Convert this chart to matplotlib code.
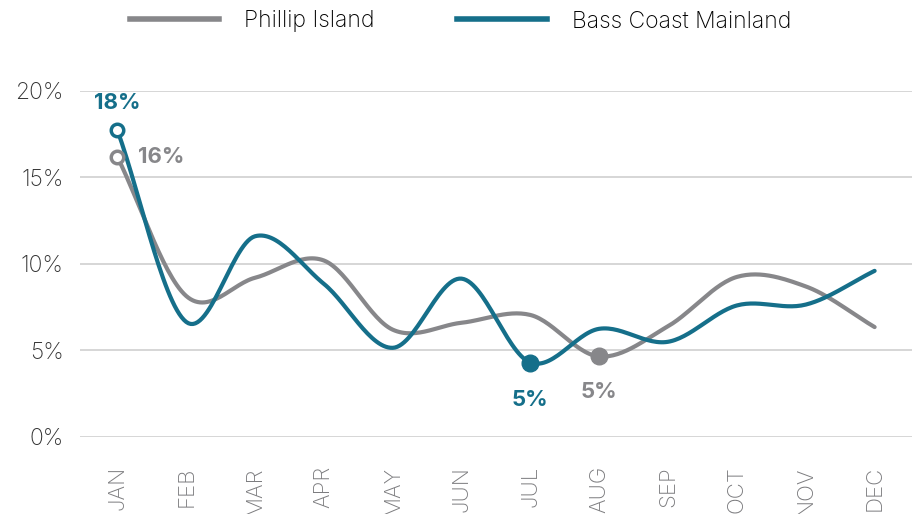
import numpy as np
import matplotlib
matplotlib.use("Agg")
import matplotlib.pyplot as plt
from matplotlib.lines import Line2D

plt.rcParams['font.family'] = ['Inter', 'DejaVu Sans']

months = ['JAN', 'FEB', 'MAR', 'APR', 'MAY', 'JUN', 'JUL', 'AUG', 'SEP', 'OCT', 'NOV', 'DEC']
phillip = [16.2, 8.15, 9.2, 10.2, 6.2, 6.6, 7.05, 4.65, 6.4, 9.25, 8.7, 6.35]
bass = [17.75, 6.65, 11.6, 8.85, 5.15, 9.15, 4.3, 6.25, 5.5, 7.6, 7.65, 9.6]

grey = '#87878a'
teal = '#156f8a'


def smooth(xs, ys, n=30, t=0.5):
    # catmull-rom style smoothing between the points
    xs = np.asarray(xs, float)
    ys = np.asarray(ys, float)
    px = np.concatenate([[2 * xs[0] - xs[1]], xs, [2 * xs[-1] - xs[-2]]])
    py = np.concatenate([[2 * ys[0] - ys[1]], ys, [2 * ys[-1] - ys[-2]]])
    ox, oy = [], []
    for i in range(1, len(px) - 2):
        s = np.linspace(0, 1, n, endpoint=False)
        for p, o in ((px, ox), (py, oy)):
            m1 = t * (p[i + 1] - p[i - 1])
            m2 = t * (p[i + 2] - p[i])
            h00 = 2 * s**3 - 3 * s**2 + 1
            h10 = s**3 - 2 * s**2 + s
            h01 = -2 * s**3 + 3 * s**2
            h11 = s**3 - s**2
            o.extend(h00 * p[i] + h10 * m1 + h01 * p[i + 1] + h11 * m2)
    ox.append(xs[-1])
    oy.append(ys[-1])
    return np.array(ox), np.array(oy)


fig = plt.figure(figsize=(9.21, 5.14), dpi=100)
ax = fig.add_axes([0.087, 0.15, 0.903, 0.673])

x = np.arange(len(months))
ax.plot(*smooth(x, phillip), color=grey, lw=3, solid_capstyle='round', zorder=3)
ax.plot(*smooth(x, bass), color=teal, lw=3, solid_capstyle='round', zorder=3)

# markers on the labelled points
ax.plot(x[0], bass[0], 'o', ms=9, mfc='white', mec=teal, mew=2.5, zorder=5)
ax.plot(x[0], phillip[0], 'o', ms=9, mfc='white', mec=grey, mew=2.5, zorder=5)
ax.plot(x[6], bass[6], 'o', ms=12, color=teal, zorder=5)
ax.plot(x[7], phillip[7], 'o', ms=12, color=grey, zorder=5)

lab = dict(fontsize=16, fontweight='bold', ha='center')
ax.text(x[0], bass[0] + 1.0, '18%', color=teal, va='bottom', **lab)
ax.text(x[0] + 0.3, phillip[0], '16%', color=grey, va='center', fontsize=16, fontweight='bold', ha='left')
ax.text(x[6], bass[6] - 1.6, '5%', color=teal, va='top', **lab)
ax.text(x[7], phillip[7] - 1.5, '5%', color=grey, va='top', **lab)

ax.set_xlim(-0.54, 11.54)
ax.set_ylim(0, 20)
ax.set_yticks([0, 5, 10, 15, 20])
ax.set_yticklabels(['0%', '5%', '10%', '15%', '20%'], fontweight='light')
ax.set_xticks(x)
ax.set_xticklabels(months, rotation=90, color='#7c7c7f', ha='center', va='top', fontweight='light')
ax.tick_params(axis='x', length=0, pad=21, labelsize=16)
ax.tick_params(axis='y', length=0, pad=12, labelsize=16.5, labelcolor='#333333')
ax.grid(axis='y', color='#d0d0d0', lw=1.2)
ax.set_axisbelow(True)
for s in ax.spines.values():
    s.set_visible(False)

handles = [Line2D([], [], color=grey, lw=4), Line2D([], [], color=teal, lw=4)]
leg = fig.legend(handles, ['Phillip Island', 'Bass Coast Mainland'], loc='upper center',
                 bbox_to_anchor=(0.5, 1.02), ncol=2, frameon=False, fontsize=16.5,
                 handlelength=3.9, handletextpad=1.1, columnspacing=3.6)
for t in leg.get_texts():
    t.set_fontweight('light')

fig.savefig('out.png', dpi=100)
